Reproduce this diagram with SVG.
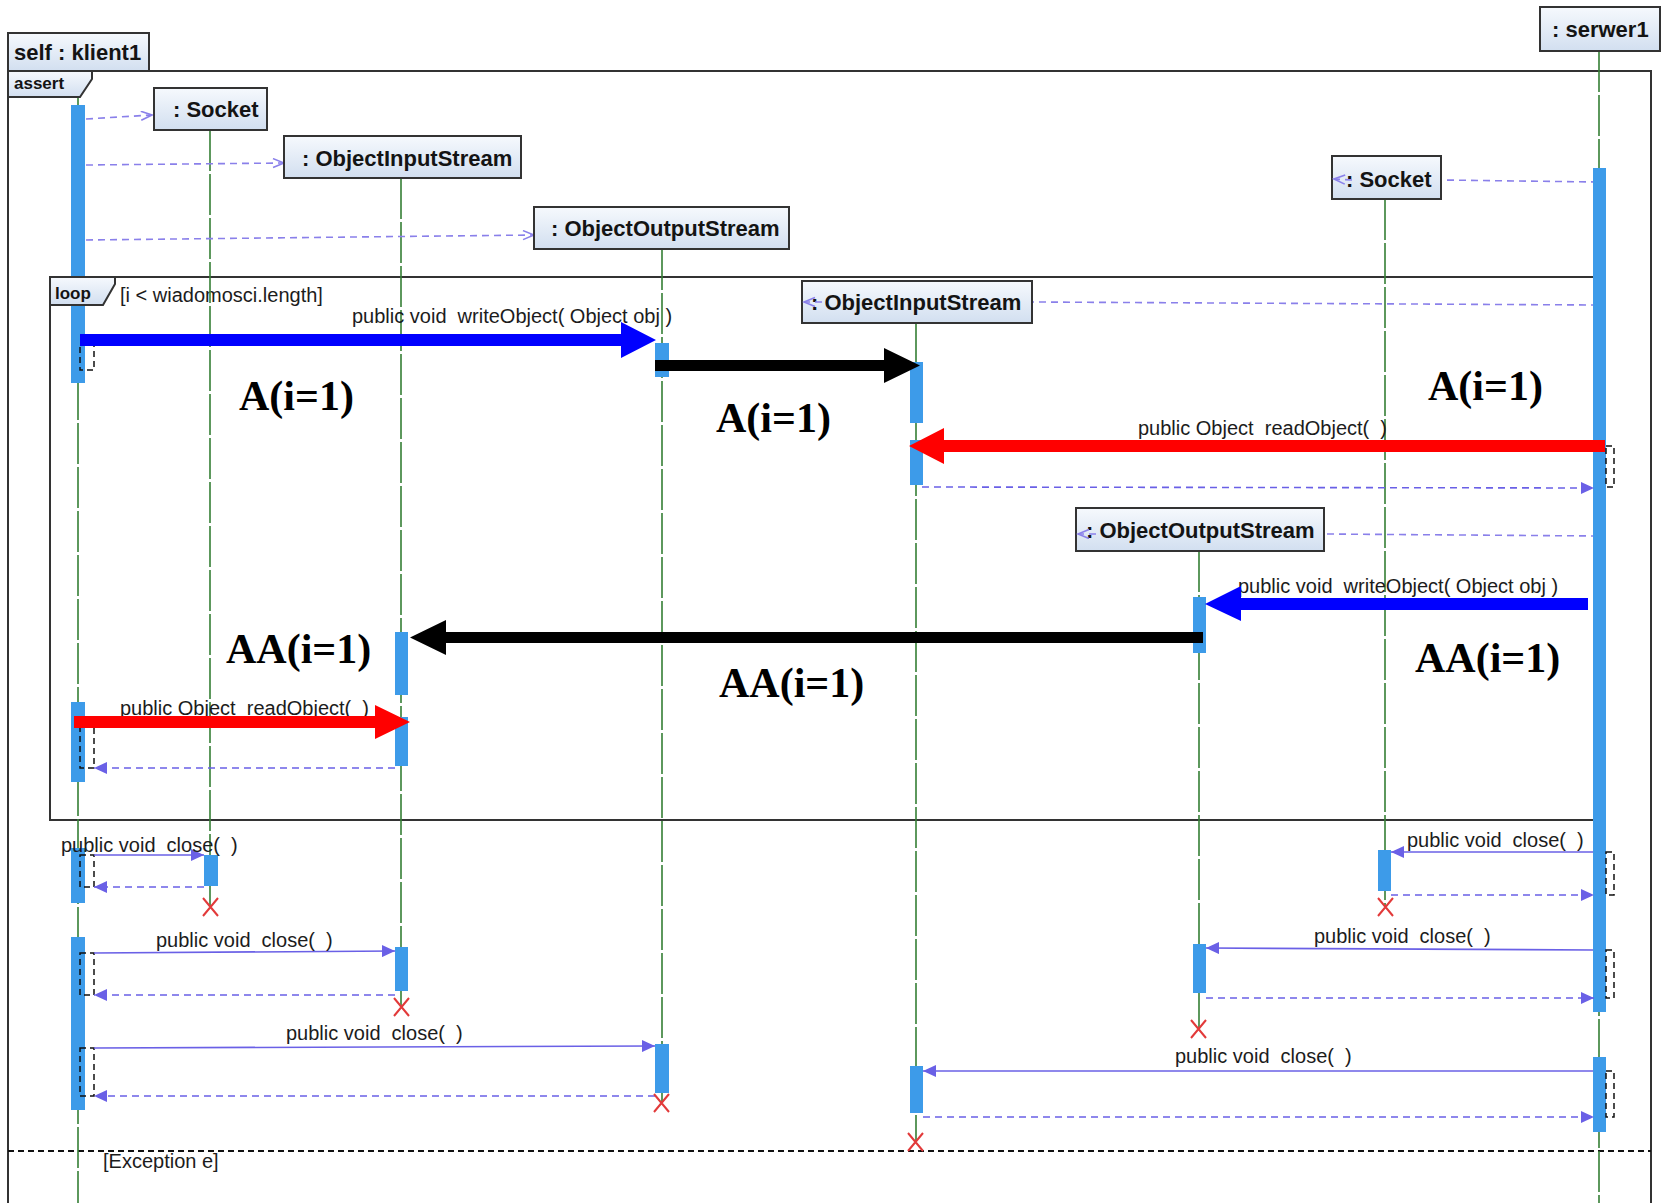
<svg xmlns="http://www.w3.org/2000/svg" width="1665" height="1203" viewBox="0 0 1665 1203">
<defs>
<linearGradient id="boxg" x1="0" y1="0" x2="0" y2="1">
<stop offset="0" stop-color="#f6f9fd"/>
<stop offset="1" stop-color="#d2dff0"/>
</linearGradient>
<marker id="fa" markerUnits="userSpaceOnUse" markerWidth="14" markerHeight="12" refX="13" refY="6" orient="auto">
<path d="M0,0 L13,6 L0,12 z" fill="#6a60e6"/>
</marker>
<marker id="oa" markerUnits="userSpaceOnUse" markerWidth="14" markerHeight="12" refX="12" refY="5" orient="auto">
<path d="M1,0.5 L12,5 L1,9.5" fill="none" stroke="#8a80ea" stroke-width="1.6"/>
</marker>
<style>
.frame{fill:none;stroke:#333;stroke-width:2}
.tab{fill:url(#boxg);stroke:#333;stroke-width:2}
.box{fill:url(#boxg);stroke:#333;stroke-width:2}
.title{font-family:"Liberation Sans",Arial,sans-serif;font-weight:bold;font-size:22px;fill:#141414}
.tabt{font-family:"Liberation Sans",Arial,sans-serif;font-weight:bold;font-size:17px;fill:#141414}
.life{stroke:#357f35;stroke-width:1.6;stroke-dasharray:41 3;fill:none}
.bar{fill:#3d9be9}
.msg{stroke:#6a60e6;stroke-width:1.6;fill:none;marker-end:url(#fa)}
.ret{stroke:#6a60e6;stroke-width:1.6;fill:none;stroke-dasharray:7 5;marker-end:url(#fa)}
.create{stroke:#8a80ea;stroke-width:1.6;fill:none;stroke-dasharray:7 5}
.brk{stroke:#111;stroke-width:1.5;fill:none;stroke-dasharray:6 4}
.lbl{font-family:"Liberation Sans",Arial,sans-serif;font-size:20px;fill:#1c1c1c;white-space:pre}
.big{font-family:"Liberation Serif","Times New Roman",serif;font-weight:bold;font-size:42px;fill:#000}
.kill{stroke:#e23a3a;stroke-width:2;fill:none}
</style>
</defs>
<rect width="1665" height="1203" fill="#ffffff"/>

<g id="frames">
<path class="frame" d="M8,1203 V71 H1651 V1203"/>
<path class="frame" d="M50,277 H1598 V820 H50 Z"/>
<text class="lbl" x="120" y="302">[i &lt; wiadomosci.length]</text>
<line x1="8" y1="1151" x2="1651" y2="1151" stroke="#111" stroke-width="2" stroke-dasharray="6 4"/>
<text class="lbl" x="103" y="1168">[Exception e]</text>
</g>

<g id="lifelines">
<line class="life" x1="78" y1="71" x2="78" y2="1203"/>
<line class="life" x1="210" y1="130" x2="210" y2="906"/>
<line class="life" x1="401" y1="178" x2="401" y2="1006"/>
<line class="life" x1="662" y1="249" x2="662" y2="1103"/>
<line class="life" x1="916" y1="323" x2="916" y2="1141"/>
<line class="life" x1="1199" y1="551" x2="1199" y2="1029"/>
<line class="life" x1="1385" y1="199" x2="1385" y2="906"/>
<line class="life" x1="1599" y1="51" x2="1599" y2="1203"/>
</g>

<g id="connectors">
<path class="create" d="M86,119 L152,115" marker-end="url(#oa)"/>
<path class="create" d="M86,165 L284,163" marker-end="url(#oa)"/>
<path class="create" d="M86,240 L534,235" marker-end="url(#oa)"/>
<path class="create" d="M1598,182 L1441,180"/>
<path class="create" d="M1598,305 L1032,302"/>
<path class="create" d="M1598,536 L1324,534"/>
</g>

<g id="node-klient1"><rect class="box" x="8" y="33" width="141" height="38"/><text class="title" x="14" y="60">self : klient1</text></g>
<g id="node-socket-k"><rect class="box" x="154" y="88" width="113" height="42"/><text class="title" x="173" y="117">: Socket</text></g>
<g id="node-ois-k"><rect class="box" x="284" y="136" width="237" height="42"/><text class="title" x="302" y="166">: ObjectInputStream</text></g>
<g id="node-oos-k"><rect class="box" x="534" y="207" width="255" height="42"/><text class="title" x="551" y="236">: ObjectOutputStream</text></g>
<g id="node-serwer1"><rect class="box" x="1540" y="7" width="120" height="44"/><text class="title" x="1552" y="37">: serwer1</text></g>
<g id="node-socket-s"><rect class="box" x="1332" y="156" width="109" height="43"/><text class="title" x="1346" y="187">: Socket</text></g>
<g id="node-ois-s"><rect class="box" x="802" y="281" width="230" height="42"/><text class="title" x="811" y="310">: ObjectInputStream</text></g>
<g id="node-oos-s"><rect class="box" x="1076" y="508" width="248" height="43"/><text class="title" x="1086" y="538">: ObjectOutputStream</text></g>

<g id="create-heads">
<path class="create" d="M1352,180 L1334,179" marker-end="url(#oa)"/>
<path class="create" d="M822,302 L804,302" marker-end="url(#oa)"/>
<path class="create" d="M1096,534 L1078,534" marker-end="url(#oa)"/>
</g>

<g id="activations">
<rect class="bar" x="71" y="105" width="14" height="278"/>
<rect class="bar" x="71" y="702" width="14" height="80"/>
<rect class="bar" x="71" y="848" width="14" height="55"/>
<rect class="bar" x="71" y="937" width="14" height="173"/>
<rect class="bar" x="204" y="855" width="14" height="31"/>
<rect class="bar" x="395" y="632" width="13" height="63"/>
<rect class="bar" x="395" y="717" width="13" height="49"/>
<rect class="bar" x="395" y="947" width="13" height="44"/>
<rect class="bar" x="655" y="343" width="14" height="34"/>
<rect class="bar" x="655" y="1044" width="14" height="49"/>
<rect class="bar" x="910" y="362" width="13" height="61"/>
<rect class="bar" x="910" y="440" width="13" height="45"/>
<rect class="bar" x="910" y="1066" width="13" height="47"/>
<rect class="bar" x="1193" y="597" width="13" height="56"/>
<rect class="bar" x="1193" y="944" width="13" height="49"/>
<rect class="bar" x="1378" y="850" width="13" height="41"/>
<rect class="bar" x="1593" y="168" width="13" height="844"/>
<rect class="bar" x="1593" y="1057" width="13" height="75"/>
</g>

<g id="frame-tabs">
<path class="tab" d="M8,71 H92 V79 L80,97 H8 Z"/>
<text class="tabt" x="14" y="89">assert</text>
<path class="tab" d="M50,277 H115 V284 L103,305 H50 Z"/>
<text class="tabt" x="55" y="299">loop</text>
</g>

<g id="messages">
<rect class="brk" x="80" y="345" width="14" height="25"/>
<rect class="brk" x="1606" y="446" width="8" height="41"/>
<path class="ret" d="M922,487 L1594,488"/>
<rect class="brk" x="80" y="722" width="14" height="46"/>
<path class="ret" d="M395,768 L94,768"/>

<rect class="brk" x="80" y="855" width="14" height="32"/>
<path class="msg" d="M94,855 L204,855"/>
<path class="ret" d="M204,887 L94,887"/>
<rect class="brk" x="80" y="953" width="14" height="42"/>
<path class="msg" d="M94,953 L395,951"/>
<path class="ret" d="M395,995 L94,995"/>
<rect class="brk" x="80" y="1048" width="14" height="48"/>
<path class="msg" d="M94,1048 L655,1046"/>
<path class="ret" d="M655,1096 L94,1096"/>

<rect class="brk" x="1606" y="852" width="8" height="43"/>
<path class="msg" d="M1593,852 L1391,852"/>
<path class="ret" d="M1391,895 L1594,895"/>
<rect class="brk" x="1606" y="950" width="8" height="48"/>
<path class="msg" d="M1593,950 L1206,948"/>
<path class="ret" d="M1206,998 L1594,998"/>
<rect class="brk" x="1606" y="1071" width="8" height="46"/>
<path class="msg" d="M1593,1071 L923,1071"/>
<path class="ret" d="M923,1117 L1594,1117"/>

<path class="kill" d="M203,898 L218,916 M218,898 L203,916"/>
<path class="kill" d="M394,998 L409,1016 M409,998 L394,1016"/>
<path class="kill" d="M654,1094 L669,1112 M669,1094 L654,1112"/>
<path class="kill" d="M908,1133 L923,1151 M923,1133 L908,1151"/>
<path class="kill" d="M1191,1020 L1206,1038 M1206,1020 L1191,1038"/>
<path class="kill" d="M1378,898 L1393,916 M1393,898 L1378,916"/>

<text class="lbl" x="352" y="323">public void  writeObject( Object obj )</text>
<text class="lbl" x="1138" y="435">public Object  readObject(  )</text>
<text class="lbl" x="1238" y="593">public void  writeObject( Object obj )</text>
<text class="lbl" x="120" y="715">public Object  readObject(  )</text>
<text class="lbl" x="61" y="852">public void  close(  )</text>
<text class="lbl" x="156" y="947">public void  close(  )</text>
<text class="lbl" x="286" y="1040">public void  close(  )</text>
<text class="lbl" x="1407" y="847">public void  close(  )</text>
<text class="lbl" x="1314" y="943">public void  close(  )</text>
<text class="lbl" x="1175" y="1063">public void  close(  )</text>
</g>

<g id="thick-arrows">
<path fill="#0000ff" d="M80,334 H621 V322 L656,340 L621,358 V346 H80 Z"/>
<path fill="#000000" d="M655,360 H884 V348 L920,365.5 L884,383 V371 H655 Z"/>
<path fill="#ff0000" d="M1605,440 H944 V428 L909,446 L944,464 V452 H1605 Z"/>
<path fill="#0000ff" d="M1588,598 H1241 V586 L1205,604 L1241,621 V610 H1588 Z"/>
<path fill="#000000" d="M1203,632 H446 V620 L410,637.5 L446,655 V643 H1203 Z"/>
<path fill="#ff0000" d="M74,716 H375 V705 L410,722 L375,739 V728 H74 Z"/>
<text class="big" x="239" y="410">A(i=1)</text>
<text class="big" x="716" y="432">A(i=1)</text>
<text class="big" x="1428" y="400">A(i=1)</text>
<text class="big" x="226" y="663">AA(i=1)</text>
<text class="big" x="719" y="697">AA(i=1)</text>
<text class="big" x="1415" y="672">AA(i=1)</text>
</g>
</svg>
